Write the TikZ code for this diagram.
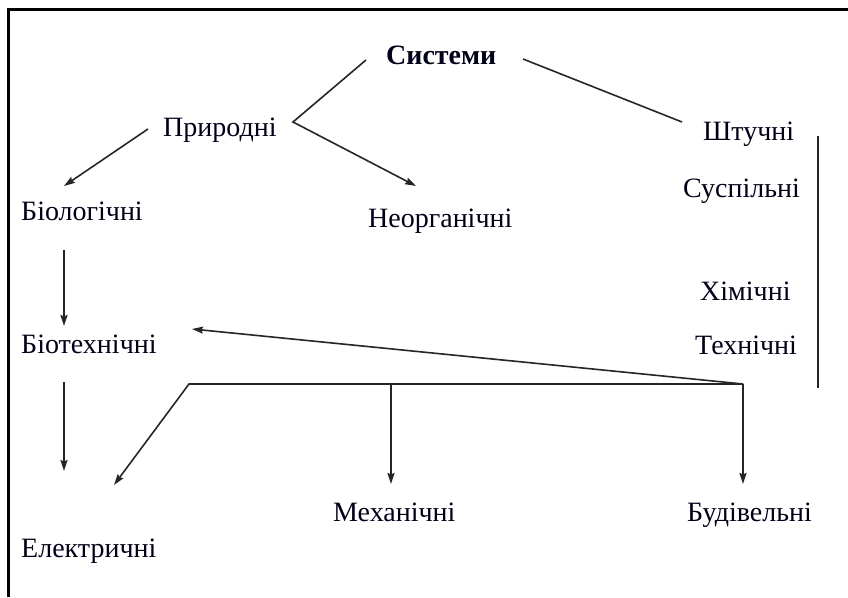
\documentclass[tikz,border=0pt]{standalone}
\usepackage{fontspec}
\setmainfont{Liberation Serif}
\usetikzlibrary{arrows.meta}
\begin{document}
\begin{tikzpicture}[x=1pt,y=-1pt,
  lbl/.style={anchor=base west,inner sep=0pt,font=\fontsize{28}{33}\selectfont,text=black!90!blue},
  conn/.style={draw=black!85,line width=1.6pt},
  arr/.style={conn,-{Stealth[length=11pt,width=7pt,inset=1.5pt]}}]
\useasboundingbox (0,0) rectangle (848,597);
\fill[white] (0,0) rectangle (848,597);
\draw[line width=3pt] (8.5,597) -- (8.5,9.5) -- (848,9.5);
% nodes
\node[lbl,font=\fontsize{28}{33}\selectfont\bfseries] (sys) at (386,64) {Системи};
\node[lbl] (pryr) at (163,136) {Природні};
\node[lbl] (biol) at (21,220) {Біологічні};
\node[lbl] (neor) at (368,227) {Неорганічні};
\node[lbl] (shtu) at (703,140) {Штучні};
\node[lbl] (susp) at (683,197) {Суспільні};
\node[lbl] (khim) at (700,300) {Хімічні};
\node[lbl] (tekh) at (695,354) {Технічні};
\node[lbl] (biot) at (21,353) {Біотехнічні};
\node[lbl] (elek) at (21,557) {Електричні};
\node[lbl] (mekh) at (333,521) {Механічні};
\node[lbl] (budi) at (687,521) {Будівельні};
% coordinates
\coordinate (sysL) at (366,60);
\coordinate (sysR) at (523,59);
\coordinate (pryrV) at (293,122);
\coordinate (shtuT) at (682,122);
\coordinate (neorT) at (416,186);
\coordinate (pryrL) at (148,129);
\coordinate (biolT) at (64,186);
\coordinate (biolB) at (64,250);
\coordinate (biotT) at (64,326);
\coordinate (biotB) at (64,382);
\coordinate (elekT) at (64,471);
\coordinate (biotR) at (192,329);
\coordinate (tekhC) at (743,384);
\coordinate (hL) at (189,384);
\coordinate (hM) at (391,384);
\coordinate (elekR) at (114,485);
\coordinate (mekhT) at (391,484);
\coordinate (budiT) at (743,484);
\coordinate (barT) at (818,136);
\coordinate (barB) at (818,388);
% connectors
\draw[conn] (sysR) -- (shtuT);
\draw[arr] (sysL) -- (pryrV) -- (neorT);
\draw[arr] (pryrL) -- (biolT);
\draw[arr] (biolB) -- (biotT);
\draw[arr] (biotB) -- (elekT);
\draw[arr] (tekhC) -- (biotR);
\draw[arr] (tekhC) -- (hL) -- (elekR);
\draw[arr] (hM) -- (mekhT);
\draw[arr] (tekhC) -- (budiT);
\draw[conn] (barT) -- (barB);
\end{tikzpicture}
\end{document}
